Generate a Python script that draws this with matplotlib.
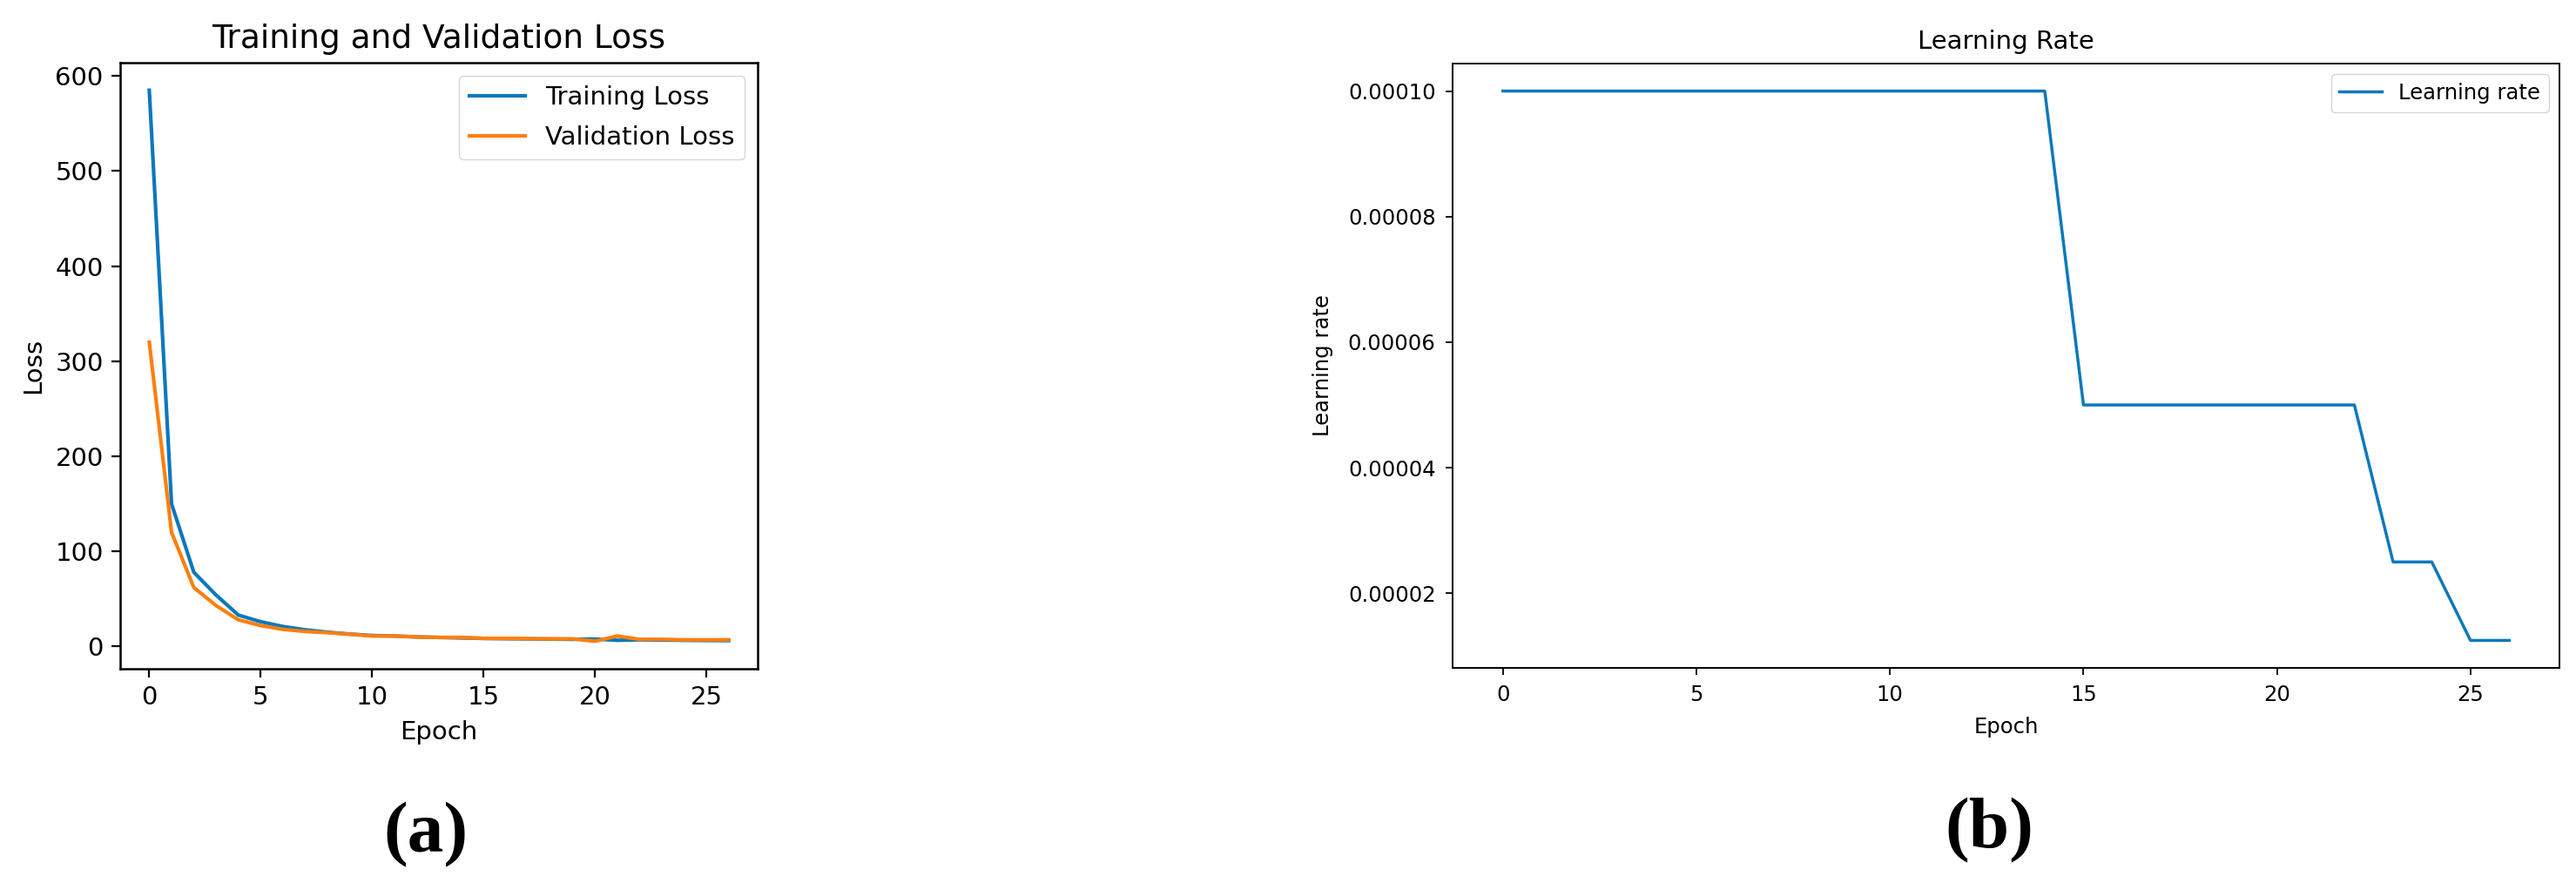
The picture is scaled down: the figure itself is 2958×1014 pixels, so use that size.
import numpy as np
import matplotlib.pyplot as plt

# loss values
epochs = list(range(27))
train_loss = [585, 150, 78, 54, 33, 26, 21, 17.5, 15, 13, 11.5, 11, 10, 9.5, 9,
              8.5, 8.2, 8, 7.8, 7.5, 7.8, 6.5, 7, 6.8, 6.5, 6.3, 6.2]
val_loss = [320, 120, 62, 43, 28, 22, 18, 15.8, 14.5, 12.8, 11, 11, 10, 9.5, 9.5,
            8.5, 8.5, 8.2, 8, 8, 5.5, 11, 7.5, 7.5, 7, 7, 7]

# learning rate schedule
lr = [1e-4] * 15 + [5e-5] * 8 + [2.5e-5] * 2 + [1.25e-5] * 2

blue = "#0a78be"
orange = "#ff7f0e"

fig = plt.figure(figsize=(29.58, 10.14), dpi=100)

# (a) training / validation loss
ax1 = fig.add_axes([0.0467, 0.2426, 0.2474, 0.6864])
ax1.plot(epochs, train_loss, color=blue, lw=3.0, label="Training Loss")
ax1.plot(epochs, val_loss, color=orange, lw=3.0, label="Validation Loss")
ax1.set_title("Training and Validation Loss", fontsize=27, pad=12)
ax1.set_xlabel("Epoch", fontsize=21, labelpad=8)
ax1.set_ylabel("Loss", fontsize=21, labelpad=8)
ax1.set_xticks([0, 5, 10, 15, 20, 25])
ax1.set_yticks([0, 100, 200, 300, 400, 500, 600])
ax1.tick_params(labelsize=21, length=7, width=1.6, pad=7)
for s in ax1.spines.values():
    s.set_linewidth(1.8)
ax1.legend(fontsize=21, loc="upper right", handlelength=2.2, labelspacing=0.6)

# (b) learning rate
ax2 = fig.add_axes([0.5639, 0.2436, 0.4297, 0.6844])
ax2.plot(epochs, lr, color=blue, lw=2.5, label="Learning rate")
ax2.set_title("Learning Rate", fontsize=21, pad=12)
ax2.set_xlabel("Epoch", fontsize=17.5, labelpad=9)
ax2.set_ylabel("Learning rate", fontsize=17.5, labelpad=12)
ax2.set_xticks([0, 5, 10, 15, 20, 25])
ax2.set_yticks([2e-5, 4e-5, 6e-5, 8e-5, 1e-4])
ax2.set_yticklabels(["0.00002", "0.00004", "0.00006", "0.00008", "0.00010"])
ax2.tick_params(labelsize=17.5, length=6, width=1.3, pad=8)
for s in ax2.spines.values():
    s.set_linewidth(1.4)
ax2.legend(fontsize=17.5, loc="upper right")

# panel labels
fig.text(0.1653, 0.054, "(a)", fontsize=60, fontweight="bold",
         family="Liberation Serif", ha="center", va="center")
fig.text(0.7722, 0.059, "(b)", fontsize=60, fontweight="bold",
         family="Liberation Serif", ha="center", va="center")

fig.savefig("out.png", dpi=100)
